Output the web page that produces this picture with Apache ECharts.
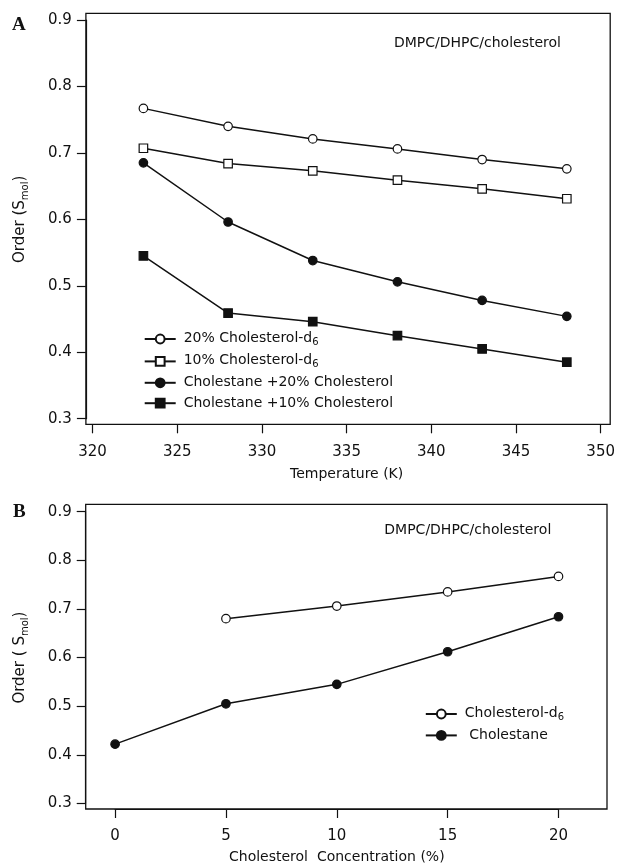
<!DOCTYPE html>
<html>
<head>
<meta charset="utf-8">
<script src="https://cdn.jsdelivr.net/npm/echarts@6/dist/echarts.min.js"></script>
<style>
  html, body { margin: 0; padding: 0; background: #fff; }
  #chart { width: 618px; height: 865px; }
</style>
</head>
<body>
<div id="chart"></div>
<script>
// panel A: order vs temperature
var tempK = [323, 328, 333, 338, 343, 348];
var chol20d6 = [0.767, 0.740, 0.721, 0.706, 0.690, 0.676];
var chol10d6 = [0.707, 0.684, 0.673, 0.659, 0.646, 0.631];
var cholestane20 = [0.685, 0.596, 0.538, 0.506, 0.478, 0.454];
var cholestane10 = [0.545, 0.459, 0.446, 0.425, 0.405, 0.385];
var tempTicks = [320, 325, 330, 335, 340, 345, 350];

// panel B: order vs cholesterol concentration
var concD6 = [5, 10, 15, 20];
var cholD6 = [0.680, 0.706, 0.735, 0.767];
var concCholestane = [0, 5, 10, 15, 20];
var cholestane = [0.422, 0.505, 0.545, 0.612, 0.684];
var concTicks = [0, 5, 10, 15, 20];

var orderTicks = [0.3, 0.4, 0.5, 0.6, 0.7, 0.8, 0.9];

var FONT = 'DejaVu Sans';

function pairs(xs, ys) {
  return xs.map(function (x, i) { return [x, ys[i]]; });
}

var subRich = {
  t: { fontFamily: FONT, fontSize: 14, color: '#111', verticalAlign: 'top' },
  s: { fontFamily: FONT, fontSize: 10, color: '#111', verticalAlign: 'top', padding: [6, 0, 0, 0] }
};
var nameRich = {
  t: { fontFamily: FONT, fontSize: 15, color: '#111', verticalAlign: 'top' },
  s: { fontFamily: FONT, fontSize: 10, color: '#111', verticalAlign: 'top', padding: [8, 0, 0, 0] }
};

function legendFmt(name) {
  var m = name.match(/^(.*)-d6$/);
  if (m) return '{t|' + m[1] + '-d}{s|6}';
  return '{t|' + name + '}';
}

function yAxisCfg(grid, off, title) {
  return {
    type: 'value', gridIndex: grid,
    min: orderTicks[0], max: orderTicks[orderTicks.length - 1], interval: 0.1, offset: off,
    name: title, nameLocation: 'middle', nameGap: 55, nameRotate: 90,
    nameTextStyle: { rich: nameRich },
    axisLine: { show: true, onZero: false, lineStyle: { color: '#111', width: 1.2 } },
    axisTick: { show: true, length: 9, lineStyle: { color: '#111', width: 1.2 } },
    axisLabel: { margin: 14, fontFamily: FONT, fontSize: 15, color: '#111',
      formatter: function (v) { return v.toFixed(1); } },
    splitLine: { show: false }
  };
}

function xAxisCfg(grid, mn, mx, off, title, gap) {
  return {
    type: 'value', gridIndex: grid, min: mn, max: mx, interval: 5, offset: off,
    name: title, nameLocation: 'middle', nameGap: gap,
    nameTextStyle: { fontFamily: FONT, fontSize: 14, color: '#111' },
    axisLine: { show: true, onZero: false, lineStyle: { color: '#111', width: 1.2 } },
    axisTick: { show: true, length: 9, lineStyle: { color: '#111', width: 1.2 } },
    axisLabel: { margin: 20, fontFamily: FONT, fontSize: 15, color: '#111' },
    splitLine: { show: false }
  };
}

function lineSeries(name, data, sym, filled, xi, yi) {
  return {
    name: name, type: 'line', data: data, xAxisIndex: xi, yAxisIndex: yi,
    symbol: sym, symbolSize: 8.5, showSymbol: true,
    lineStyle: { color: '#111', width: 1.5 },
    itemStyle: { color: filled ? '#111' : '#fff', borderColor: '#111', borderWidth: 1.2 },
    emphasis: { disabled: true },
    z: 3
  };
}

function legendCfg(names, left, top) {
  return {
    data: names, orient: 'vertical', left: left, top: top,
    itemWidth: 31, itemHeight: 11, itemGap: 6.4, selectedMode: false,
    formatter: legendFmt,
    textStyle: { rich: subRich, padding: [0, 0, 0, 3] }
  };
}

var chart = echarts.init(document.getElementById('chart'));

chart.setOption({
  animation: false,
  backgroundColor: '#fff',
  grid: [
    { left: 92.6, top: 20, width: 509.7, height: 398.7 },
    { left: 115.1, top: 511.7, width: 443.4, height: 291.8 }
  ],
  xAxis: [
    xAxisCfg(0, tempTicks[0], tempTicks[tempTicks.length - 1], 5.6, 'Temperature (K)', 43),
    xAxisCfg(1, concTicks[0], concTicks[concTicks.length - 1], 5.5, 'Cholesterol  Concentration (%)', 41)
  ],
  yAxis: [
    yAxisCfg(0, 6.7, '{t|Order (S}{s|mol}{t|)}'),
    yAxisCfg(1, 29.4, '{t|Order ( S}{s|mol}{t|)}')
  ],
  legend: [
    legendCfg(['20% Cholesterol-d6', '10% Cholesterol-d6',
      'Cholestane +20% Cholesterol', 'Cholestane +10% Cholesterol'], 138.7, 326),
    legendCfg(['Cholesterol-d6', ' Cholestane'], 419.8, 701)
  ],
  series: [
    lineSeries('20% Cholesterol-d6', pairs(tempK, chol20d6), 'circle', false, 0, 0),
    lineSeries('10% Cholesterol-d6', pairs(tempK, chol10d6), 'rect', false, 0, 0),
    lineSeries('Cholestane +20% Cholesterol', pairs(tempK, cholestane20), 'circle', true, 0, 0),
    lineSeries('Cholestane +10% Cholesterol', pairs(tempK, cholestane10), 'rect', true, 0, 0),
    lineSeries('Cholesterol-d6', pairs(concD6, cholD6), 'circle', false, 1, 1),
    lineSeries(' Cholestane', pairs(concCholestane, cholestane), 'circle', true, 1, 1)
  ],
  graphic: [
    // plot frames
    { type: 'rect', shape: { x: 85.9, y: 13.3, width: 524.3, height: 411 },
      style: { fill: null, stroke: '#111', lineWidth: 1.3 }, silent: true },
    { type: 'rect', shape: { x: 85.7, y: 504.3, width: 521.3, height: 304.7 },
      style: { fill: null, stroke: '#111', lineWidth: 1.3 }, silent: true },
    // panel letters
    { type: 'text', x: 12, y: 25, style: { text: 'A', font: 'bold 19px "Liberation Serif"',
      fill: '#111', verticalAlign: 'middle' } },
    { type: 'text', x: 13, y: 512, style: { text: 'B', font: 'bold 19px "Liberation Serif"',
      fill: '#111', verticalAlign: 'middle' } },
    // system labels
    { type: 'text', x: 394, y: 43.3, style: { text: 'DMPC/DHPC/cholesterol',
      font: '14px "DejaVu Sans"', fill: '#111', verticalAlign: 'middle' } },
    { type: 'text', x: 384.3, y: 530.7, style: { text: 'DMPC/DHPC/cholesterol',
      font: '14px "DejaVu Sans"', fill: '#111', verticalAlign: 'middle' } }
  ]
});
</script>
</body>
</html>
